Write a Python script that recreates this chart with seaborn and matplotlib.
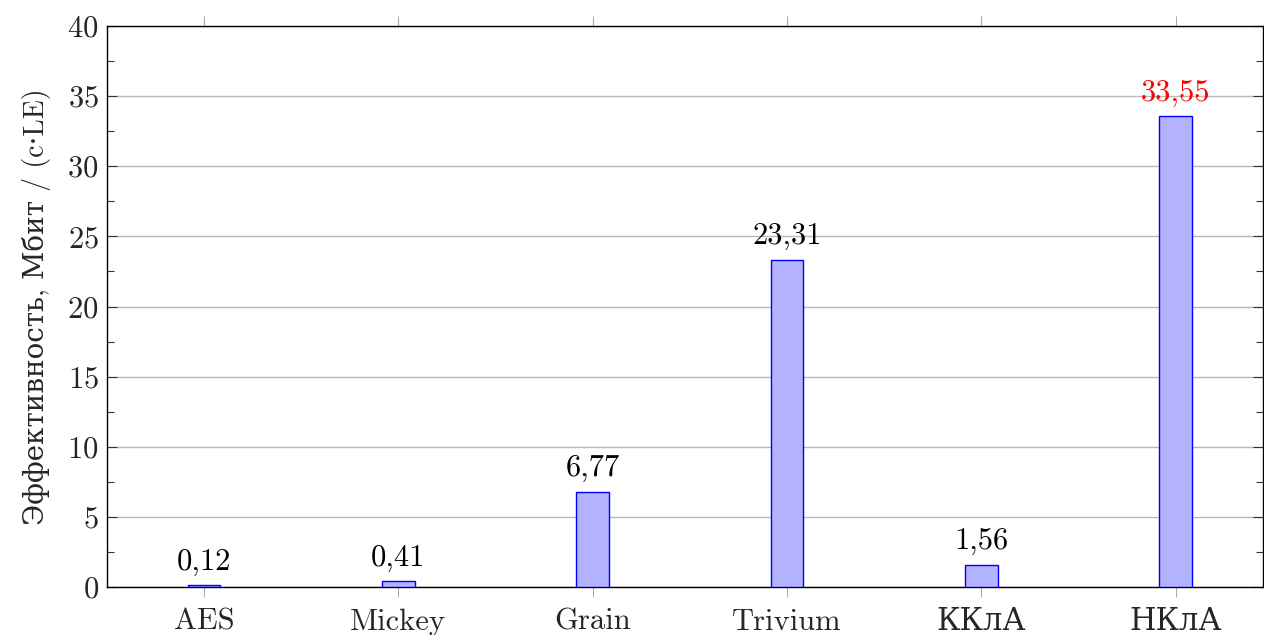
import matplotlib
matplotlib.use("Agg")
import matplotlib.pyplot as plt
import seaborn as sns
import pandas as pd
from matplotlib.ticker import MultipleLocator

algorithms = ["AES", "Mickey", "Grain", "Trivium", "ККлА", "НКлА"]
efficiency = [0.12, 0.41, 6.77, 23.31, 1.56, 33.55]
value_labels = ["0,12", "0,41", "6,77", "23,31", "1,56", "33,55"]
label_colors = ["black", "black", "black", "black", "black", "red"]

df = pd.DataFrame({"algorithm": algorithms, "efficiency": efficiency})

sns.set_style("white")
plt.rcParams["font.family"] = ["cmr10", "DejaVu Serif"]
plt.rcParams["axes.formatter.use_mathtext"] = True
plt.rcParams["mathtext.fontset"] = "cm"

fig, ax = plt.subplots(figsize=(12.64, 6.35), dpi=100)
fig.subplots_adjust(left=107 / 1264, right=1263 / 1264, top=1 - 26 / 635, bottom=1 - 587 / 635)

sns.barplot(data=df, x="algorithm", y="efficiency", order=algorithms,
            color="#b3b3ff", saturation=1, edgecolor="blue", linewidth=1,
            width=0.167, ax=ax, zorder=3)

for i, (v, lab, col) in enumerate(zip(efficiency, value_labels, label_colors)):
    ax.annotate(lab, (i, v), xytext=(0, 7), textcoords="offset points",
                ha="center", va="bottom", fontsize=22, color=col, zorder=4)

ax.set_xlim(-0.5, 5.45)
ax.set_ylim(0, 40)
ax.yaxis.set_major_locator(MultipleLocator(5))
ax.yaxis.set_minor_locator(MultipleLocator(2.5))
ax.yaxis.grid(True, which="major", color="#b8b8b8", linewidth=1, zorder=0)
ax.set_axisbelow(True)

for s in ax.spines.values():
    s.set_color("black")
    s.set_linewidth(1)

ax.tick_params(axis="y", which="major", direction="in", length=7.5, width=0.8,
               left=True, right=True, labelsize=22, color="#333333", pad=6)
ax.tick_params(axis="y", which="minor", direction="in", length=5, width=0.8,
               left=True, right=True, color="#333333")
ax.tick_params(axis="x", which="major", direction="out", length=7.5, width=0.8,
               bottom=True, top=True, labelsize=22, color="#aaaaaa", pad=8)

ax.set_xlabel("")
ax.set_ylabel("Эффективность, Мбит / (c·LE)", fontsize=20, labelpad=12)

fig.savefig("out.png", dpi=100)
